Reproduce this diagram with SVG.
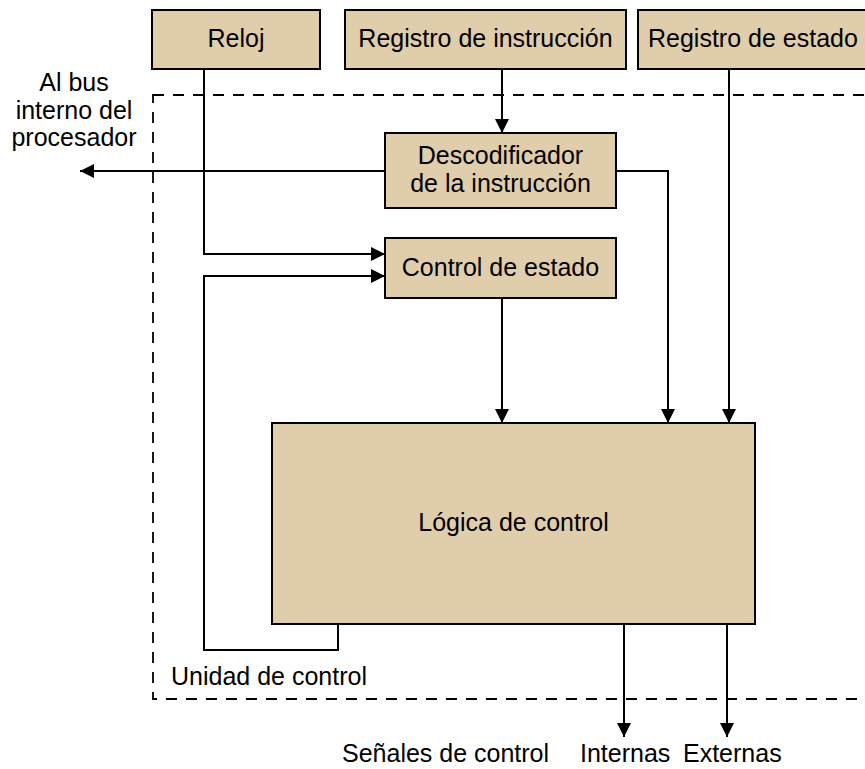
<svg xmlns="http://www.w3.org/2000/svg" width="865" height="769" viewBox="0 0 865 769">
<defs>
<marker id="arr" viewBox="0 0 14 14" refX="14" refY="7" markerWidth="14" markerHeight="14" markerUnits="userSpaceOnUse" orient="auto">
<path d="M0,0 L14,7 L0,14 Z" fill="#000"/>
</marker>
</defs>
<style>
.box{fill:#e0cdab;stroke:#000;stroke-width:2}
.t{font-family:"Liberation Sans",Arial,sans-serif;font-size:25px;fill:#000;text-anchor:middle}
.tl{font-family:"Liberation Sans",Arial,sans-serif;font-size:25px;fill:#000}
.ln{fill:none;stroke:#000;stroke-width:2}
.dash{fill:none;stroke:#000;stroke-width:1.8;stroke-dasharray:11 9}
</style>
<rect width="865" height="769" fill="#fff"/>
<g id="unidad">
<rect class="dash" x="153" y="95" width="730" height="604"/>
<text class="tl" x="171" y="685">Unidad de control</text>
</g>
<g id="reloj">
<rect class="box" x="152" y="10" width="168" height="59"/>
<text class="t" x="236" y="47">Reloj</text>
</g>
<g id="reg-instr">
<rect class="box" x="345" y="10" width="281" height="59"/>
<text class="t" x="485.5" y="47">Registro de instrucción</text>
</g>
<g id="reg-estado">
<rect class="box" x="638" y="10" width="240" height="59"/>
<text class="tl" x="648" y="47">Registro de estado</text>
</g>
<g id="decod">
<rect class="box" x="385" y="133" width="231" height="75"/>
<text class="t" x="500.5" y="164">Descodificador</text>
<text class="t" x="500.5" y="192">de la instrucción</text>
</g>
<g id="ctrl-estado">
<rect class="box" x="385" y="238" width="231" height="60"/>
<text class="t" x="500.5" y="276">Control de estado</text>
</g>
<g id="logica">
<rect class="box" x="272" y="423" width="483" height="201"/>
<text class="t" x="513.5" y="531">Lógica de control</text>
</g>
<g id="labels">
<text class="t" x="74" y="91">Al bus</text>
<text class="t" x="74" y="119">interno del</text>
<text class="t" x="74" y="146">procesador</text>
<text class="tl" x="342" y="762">Señales de control</text>
<text class="tl" x="580" y="762">Internas</text>
<text class="tl" x="683" y="762">Externas</text>
</g>
<g id="connectors">
<path class="ln" d="M502,69 V133" marker-end="url(#arr)"/>
<path class="ln" d="M385,171 H80" marker-end="url(#arr)"/>
<path class="ln" d="M616,171 H668 V423" marker-end="url(#arr)"/>
<path class="ln" d="M729,69 V423" marker-end="url(#arr)"/>
<path class="ln" d="M204,69 V254 H385" marker-end="url(#arr)"/>
<path class="ln" d="M338,624 V650 H204 V276 H385" marker-end="url(#arr)"/>
<path class="ln" d="M502,298 V423" marker-end="url(#arr)"/>
<path class="ln" d="M624,624 V737" marker-end="url(#arr)"/>
<path class="ln" d="M727,624 V737" marker-end="url(#arr)"/>
</g>
</svg>
